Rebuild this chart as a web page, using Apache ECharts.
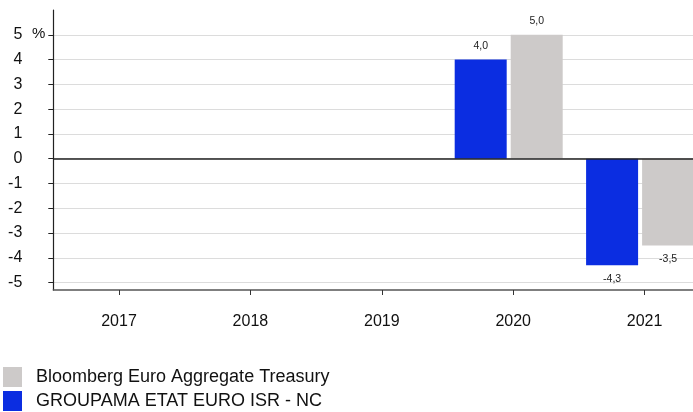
<!DOCTYPE html>
<html>
<head>
<meta charset="utf-8">
<script src="https://cdn.jsdelivr.net/npm/echarts@6/dist/echarts.min.js"></script>
<style>
html,body{margin:0;padding:0;background:#fff;}
#chart{width:693px;height:412px;}
</style>
</head>
<body>
<div id="chart"></div>
<script>
const categories = ['2017', '2018', '2019', '2020', '2021'];
const fundName = 'GROUPAMA ETAT EURO ISR - NC';
const benchName = 'Bloomberg Euro Aggregate Treasury';
const fundValues = [null, null, null, 4.0, -4.3];
const benchValues = [null, null, null, 5.0, -3.5];
const yTicks = [-5, -4, -3, -2, -1, 0, 1, 2, 3, 4, 5];

const FONT = '"Liberation Sans", Arial, sans-serif';
const fmt = p => (p.value == null ? '' : p.value.toFixed(1).replace('.', ','));
const barLabel = {
  show: true,
  position: 'outside',
  fontFamily: FONT,
  fontSize: 10.5,
  color: '#222',
  distance: 8,
  formatter: fmt
};

const chart = echarts.init(document.getElementById('chart'), null, {renderer: 'canvas'});
chart.setOption({
  animation: false,
  backgroundColor: '#fff',
  textStyle: {fontFamily: FONT},
  grid: {left: 53.3, top: 10, width: 657, bottom: 122, containLabel: false, outerBoundsMode: 'none'},
  legend: {
    orient: 'vertical',
    left: 3,
    top: 367,
    height: 60,
    padding: 0,
    itemWidth: 19,
    itemHeight: 20,
    itemGap: 4,
    icon: 'rect',
    selectedMode: false,
    data: [benchName, fundName],
    textStyle: {fontFamily: FONT, fontSize: 18, color: '#111', padding: [0, 0, 0, 9]}
  },
  xAxis: {
    type: 'category',
    data: categories,
    boundaryGap: true,
    axisLine: {onZero: false, lineStyle: {color: '#555', width: 1.5}},
    axisTick: {show: true, alignWithLabel: true, length: 5, lineStyle: {color: '#333'}},
    axisLabel: {margin: 24, fontSize: 16, color: '#111', fontFamily: FONT},
    splitLine: {show: false}
  },
  yAxis: {
    type: 'value',
    min: -5.3,
    max: 6,
    name: '%',
    nameLocation: 'end',
    nameGap: -24,
    nameTextStyle: {fontFamily: FONT, fontSize: 15, color: '#111', align: 'right', verticalAlign: 'middle', padding: [0, 8, 0, 0]},
    axisLine: {show: true, lineStyle: {color: '#222', width: 1.2}},
    axisTick: {show: true, length: 5, customValues: yTicks, lineStyle: {color: '#222'}},
    axisLabel: {customValues: yTicks, margin: 31, fontSize: 16, color: '#111', fontFamily: FONT},
    splitLine: {show: true, lineStyle: {color: '#dcdcdc', width: 1.2}}
  },
  series: [
    {
      name: fundName,
      type: 'bar',
      data: fundValues,
      barWidth: 52,
      barGap: '7.7%',
      itemStyle: {color: '#0b2de1'},
      label: barLabel,
      markLine: {
        silent: true,
        symbol: 'none',
        label: {show: false},
        lineStyle: {color: '#222', width: 1.5, type: 'solid'},
        data: [{yAxis: 0}]
      }
    },
    {
      name: benchName,
      type: 'bar',
      data: benchValues,
      barWidth: 52,
      barGap: '7.7%',
      itemStyle: {color: '#cdcac9'},
      label: barLabel
    },
    {
      name: 'spacer',
      type: 'bar',
      data: [],
      barWidth: 5,
      barGap: '7.7%',
      silent: true
    }
  ]
});
</script>
</body>
</html>
